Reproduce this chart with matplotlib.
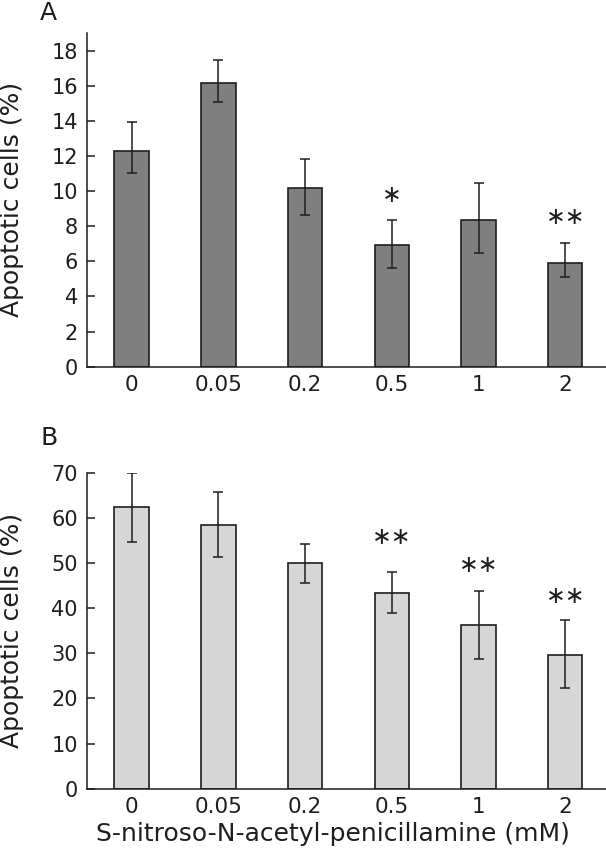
import matplotlib
matplotlib.use("Agg")
import matplotlib.pyplot as plt
import numpy as np

plt.rcParams['font.family'] = ['DejaVu Sans']

categories = ["0", "0.05", "0.2", "0.5", "1", "2"]

# Panel A
a_values = [12.3, 16.15, 10.15, 6.95, 8.35, 5.9]
a_err_low = [1.3, 1.1, 1.5, 1.35, 1.9, 0.8]
a_err_high = [1.65, 1.3, 1.65, 1.4, 2.1, 1.15]
a_stars = ["", "", "", "\u2217", "", "\u2217\u2217"]
a_star_y = [0, 0, 0, 9.75, 0, 8.55]

# Panel B
b_values = [62.3, 58.5, 49.9, 43.4, 36.2, 29.7]
b_err_low = [7.6, 7.1, 4.3, 4.5, 7.4, 7.4]
b_err_high = [7.6, 7.3, 4.2, 4.7, 7.5, 7.6]
b_stars = ["", "", "", "\u2217\u2217", "\u2217\u2217", "\u2217\u2217"]
b_star_y = [0, 0, 0, 55.7, 49.6, 42.7]

fig = plt.figure(figsize=(6.06, 8.52), dpi=100)
ax_w = 0.8564
axA = fig.add_axes([0.1436, 0.5696, ax_w, 0.3917])
axB = fig.add_axes([0.1436, 0.0743, ax_w, 0.3709])

x = np.arange(len(categories))
ink = '#1e1e1e'

def draw(ax, vals, lo, hi, color, ymax, yticks, stars, stary):
    ax.bar(x, vals, width=0.397, color=color, edgecolor=ink, linewidth=1.2, zorder=2)
    ax.errorbar(x, vals, yerr=[lo, hi], fmt='none', ecolor=ink,
                elinewidth=1.1, capsize=3.3, capthick=1.1, zorder=3)
    for xi, s, sy in zip(x, stars, stary):
        if s:
            ax.text(xi, sy, s, ha='center', va='center', fontsize=17, color=ink)
    ax.set_xlim(-0.514, 5.47)
    ax.set_ylim(0, ymax)
    ax.set_yticks(yticks)
    ax.set_xticks(x)
    ax.set_xticklabels(categories)
    for sp in ['top', 'right']:
        ax.spines[sp].set_visible(False)
    for sp in ['left', 'bottom']:
        ax.spines[sp].set_linewidth(1.1)
        ax.spines[sp].set_color(ink)
    ax.tick_params(axis='y', direction='in', length=6, width=1.1, labelsize=15,
                   colors=ink, pad=6.5)
    ax.tick_params(axis='x', length=0, labelsize=15.5, colors=ink, pad=6)
    ax.set_ylabel("Apoptotic cells (%)", fontsize=18, color=ink)
    ax.yaxis.set_label_coords((24 - 87) / (ax_w * 606), 0.5)

draw(axA, a_values, a_err_low, a_err_high, '#7f7f7f', 19, np.arange(0, 19, 2), a_stars, a_star_y)
draw(axB, b_values, b_err_low, b_err_high, '#d6d6d6', 70, np.arange(0, 71, 10), b_stars, b_star_y)
axB.set_xlabel("S-nitroso-N-acetyl-penicillamine (mM)", fontsize=18, color=ink)
axB.xaxis.set_label_coords((332.5 - 87) / (ax_w * 606), -(822 - 788.7) / (0.3709 * 852))

fig.text(48 / 606, 1 - 13 / 852, "A", fontsize=18, ha='center', va='center', color=ink)
fig.text(49 / 606, 1 - 438 / 852, "B", fontsize=18, ha='center', va='center', color=ink)

fig.savefig("out.png", dpi=100)
